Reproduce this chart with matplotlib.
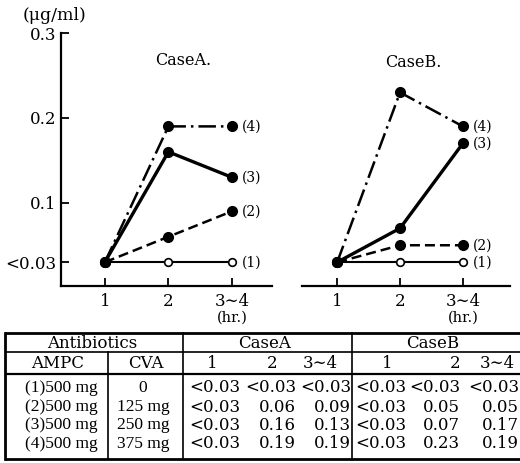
import numpy as np
import matplotlib
matplotlib.use('Agg')
import matplotlib.pyplot as plt
from matplotlib.transforms import blended_transform_factory

plt.rcParams['font.family'] = ['DejaVu Serif', 'DejaVu Sans']

# data
hours = [1, 2, 3]
hour_labels = ['1', '2', '3∼4']
series = ['(1)', '(2)', '(3)', '(4)']
ampc = ['(1)500 mg', '(2)500 mg', '(3)500 mg', '(4)500 mg']
cva = ['0', '125 mg', '250 mg', '375 mg']
caseA = [[0.03, 0.03, 0.03], [0.03, 0.06, 0.09], [0.03, 0.16, 0.13], [0.03, 0.19, 0.19]]
caseB = [[0.03, 0.03, 0.03], [0.03, 0.05, 0.05], [0.03, 0.07, 0.17], [0.03, 0.23, 0.19]]
detect_limit = 0.03
yticks = [0.03, 0.1, 0.2, 0.3]
ytick_labels = ['<0.03', '0.1', '0.2', '0.3']

styles = [dict(ls='-', lw=1.5, marker='o', mfc='white', ms=5.5, mew=1.2),
          dict(ls=(0, (4, 2)), lw=1.8, marker='o', mfc='black', ms=7),
          dict(ls='-', lw=2.4, marker='o', mfc='black', ms=7),
          dict(ls=(0, (7, 2, 1, 2)), lw=1.8, marker='o', mfc='black', ms=7)]

W, H = 520, 463
fig = plt.figure(figsize=(W / 100, H / 100), dpi=100)


def px_axes(x0, y0, x1, y1):
    return fig.add_axes([x0 / W, 1 - y1 / H, (x1 - x0) / W, (y1 - y0) / H])


axA = px_axes(61, 33, 272, 286)
axB = px_axes(302, 33, 510, 286)

for ax, vals, xlim, title, tpos in [(axA, caseA, (0.31, 3.63), 'CaseA.', (0.578, 0.893)),
                                    (axB, caseB, (0.44, 3.75), 'CaseB.', (0.534, 0.885))]:
    for i, v in enumerate(vals):
        ax.plot(hours, v, color='black', mec='black', zorder=3 + i, clip_on=False, **styles[i])
        ax.annotate(series[i], xy=(hours[-1], v[-1]), xytext=(7, 0), textcoords='offset points',
                    va='center', ha='left', fontsize=10)
    ax.set_xlim(*xlim)
    ax.set_ylim(0.002, 0.3)
    ax.set_xticks(hours)
    ax.set_xticklabels(hour_labels, fontsize=12)
    ax.tick_params(axis='x', direction='in', length=6, width=1.3, pad=5)
    for s in ['top', 'right']:
        ax.spines[s].set_visible(False)
    ax.spines['bottom'].set_linewidth(1.6)
    ax.text(tpos[0], tpos[1], title, transform=ax.transAxes, ha='center', va='center', fontsize=11.5)
    trans = blended_transform_factory(ax.transData, ax.transAxes)
    ax.text(hours[-1], -0.126, '(hr.)', transform=trans, ha='center', va='center', fontsize=10.5)
    ax.patch.set_visible(False)

axA.set_yticks(yticks)
axA.set_yticklabels(ytick_labels, fontsize=12)
axA.tick_params(axis='y', direction='in', length=6, width=1.3, pad=3)
axA.spines['left'].set_linewidth(1.6)
axB.spines['left'].set_visible(False)
axB.set_yticks([])

fig.text(55 / W, 1 - 15 / H, '(μg/ml)', ha='center', va='center', fontsize=12.5)

# table (pixel coordinates)
tab = fig.add_axes([0, 0, 1, 1])
tab.set_xlim(0, W)
tab.set_ylim(H, 0)
tab.axis('off')

top, mid, hdr, bot = 333, 352, 374, 459
left, c1, c2, c3, right = 5, 108, 183, 352, 522
for y, lw in [(top, 2.0), (mid, 1.2), (hdr, 1.6), (bot, 2.0)]:
    tab.plot([left, right], [y, y], color='black', lw=lw, solid_capstyle='butt')
tab.plot([left, left], [top, bot], color='black', lw=2.0)
tab.plot([c1, c1], [mid, bot], color='black', lw=1.2)
tab.plot([c2, c2], [top, bot], color='black', lw=1.2)
tab.plot([c3, c3], [top, bot], color='black', lw=1.2)

fs = 12
yh1, yh2 = 343, 364
tab.text(92, yh1, 'Antibiotics', ha='center', va='center', fontsize=fs)
tab.text((c2 + c3) / 2 - 3, yh1, 'CaseA', ha='center', va='center', fontsize=fs)
tab.text(433, yh1, 'CaseB', ha='center', va='center', fontsize=fs)
tab.text(58, yh2, 'AMPC', ha='center', va='center', fontsize=fs)
tab.text(146, yh2, 'CVA', ha='center', va='center', fontsize=fs)
for x, lab in zip([212, 272, 320], hour_labels):
    tab.text(x, yh2, lab, ha='center', va='center', fontsize=fs)
for x, lab in zip([387, 455, 497], hour_labels):
    tab.text(x, yh2, lab, ha='center', va='center', fontsize=fs)

row_y = [388, 407, 425, 444]
colA = [240, 296, 351]
colB = [406, 460, 519]


def fmt(v):
    return '<0.03' if v <= detect_limit else f'{v:.2f}'


for r, y in enumerate(row_y):
    tab.text(61, y, ampc[r], ha='center', va='center', fontsize=12.5,
             family=['Liberation Serif', 'DejaVu Serif'])
    tab.text(143, y, cva[r], ha='center', va='center', fontsize=12.5,
             family=['Liberation Serif', 'DejaVu Serif'])
    for x, v in zip(colA, caseA[r]):
        tab.text(x, y, fmt(v), ha='right', va='center', fontsize=fs)
    for x, v in zip(colB, caseB[r]):
        tab.text(x, y, fmt(v), ha='right', va='center', fontsize=fs)

fig.savefig('out.png', dpi=100)
